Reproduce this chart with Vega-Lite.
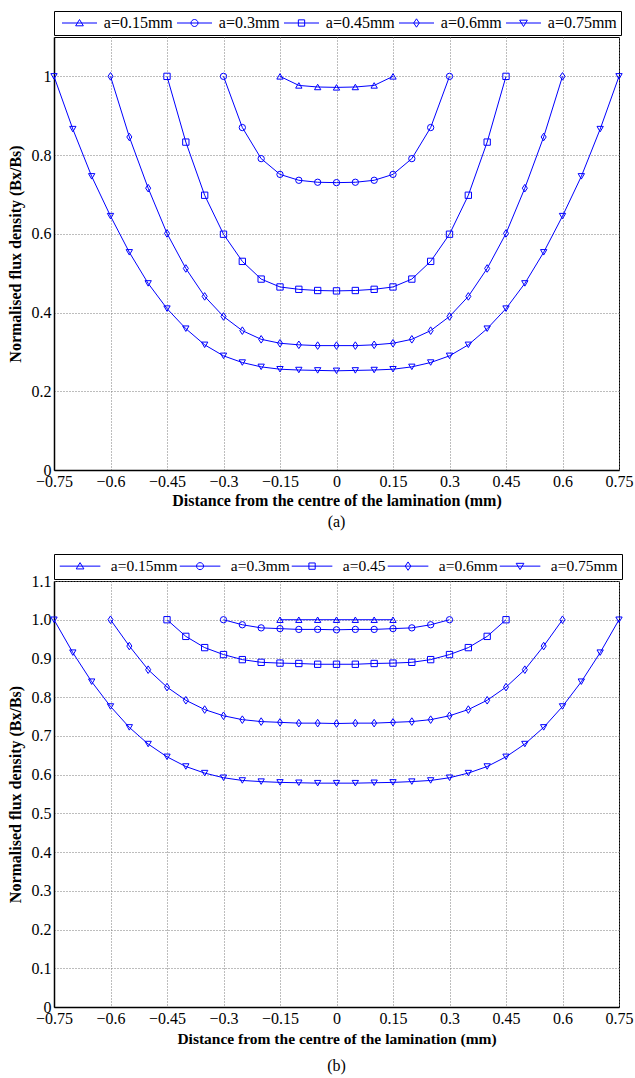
{
  "$schema": "https://vega.github.io/schema/vega-lite/v6.json",
  "background": "white",
  "padding": {"left": 6, "top": 10, "right": 12, "bottom": 4},
  "spacing": 22,
  "config": {
    "font": "Liberation Serif",
    "view": {"stroke": "black", "strokeWidth": 1},
    "axis": {
      "labelFont": "Liberation Serif", "labelFontSize": 16, "labelColor": "black", "labelFlush": false, "labelOverlap": false,
      "titleFont": "Liberation Serif", "titleFontSize": 16, "titleFontWeight": "bold", "titleColor": "black",
      "domainColor": "black", "domainWidth": 1.5, "tickSize": 0, "labelPadding": 3,
      "grid": true, "gridColor": "#7a7a7a", "gridDash": [1, 2], "gridWidth": 1, "gridOpacity": 1
    },
    "legend": {
      "orient": "top", "direction": "horizontal", "offset": 2, "padding": 4,
      "strokeColor": "black", "fillColor": "white", "symbolSize": 49,
      "labelFont": "Liberation Serif", "labelFontSize": 16, "labelColor": "black",
      "symbolStrokeColor": "#0000ff", "symbolStrokeWidth": 1, "symbolFillColor": "transparent"
    },
    "title": {"font": "Liberation Serif", "fontSize": 16, "fontWeight": "normal", "color": "black", "orient": "bottom", "frame": "group", "anchor": "middle"}
  },
  "datasets": {
    "A": [
      {"series": "a=0.15mm", "x": -0.15, "y": 1.0},
      {"series": "a=0.15mm", "x": -0.1, "y": 0.977},
      {"series": "a=0.15mm", "x": -0.05, "y": 0.973},
      {"series": "a=0.15mm", "x": 0, "y": 0.972},
      {"series": "a=0.15mm", "x": 0.05, "y": 0.973},
      {"series": "a=0.15mm", "x": 0.1, "y": 0.977},
      {"series": "a=0.15mm", "x": 0.15, "y": 1.0},
      {"series": "a=0.3mm", "x": -0.3, "y": 1.0},
      {"series": "a=0.3mm", "x": -0.25, "y": 0.87},
      {"series": "a=0.3mm", "x": -0.2, "y": 0.791},
      {"series": "a=0.3mm", "x": -0.15, "y": 0.751},
      {"series": "a=0.3mm", "x": -0.1, "y": 0.736},
      {"series": "a=0.3mm", "x": -0.05, "y": 0.731},
      {"series": "a=0.3mm", "x": 0, "y": 0.73},
      {"series": "a=0.3mm", "x": 0.05, "y": 0.731},
      {"series": "a=0.3mm", "x": 0.1, "y": 0.736},
      {"series": "a=0.3mm", "x": 0.15, "y": 0.751},
      {"series": "a=0.3mm", "x": 0.2, "y": 0.791},
      {"series": "a=0.3mm", "x": 0.25, "y": 0.87},
      {"series": "a=0.3mm", "x": 0.3, "y": 1.0},
      {"series": "a=0.45mm", "x": -0.45, "y": 1.0},
      {"series": "a=0.45mm", "x": -0.4, "y": 0.833},
      {"series": "a=0.45mm", "x": -0.35, "y": 0.698},
      {"series": "a=0.45mm", "x": -0.3, "y": 0.599},
      {"series": "a=0.45mm", "x": -0.25, "y": 0.53},
      {"series": "a=0.45mm", "x": -0.2, "y": 0.485},
      {"series": "a=0.45mm", "x": -0.15, "y": 0.465},
      {"series": "a=0.45mm", "x": -0.1, "y": 0.459},
      {"series": "a=0.45mm", "x": -0.05, "y": 0.456},
      {"series": "a=0.45mm", "x": 0, "y": 0.455},
      {"series": "a=0.45mm", "x": 0.05, "y": 0.456},
      {"series": "a=0.45mm", "x": 0.1, "y": 0.459},
      {"series": "a=0.45mm", "x": 0.15, "y": 0.465},
      {"series": "a=0.45mm", "x": 0.2, "y": 0.485},
      {"series": "a=0.45mm", "x": 0.25, "y": 0.53},
      {"series": "a=0.45mm", "x": 0.3, "y": 0.599},
      {"series": "a=0.45mm", "x": 0.35, "y": 0.698},
      {"series": "a=0.45mm", "x": 0.4, "y": 0.833},
      {"series": "a=0.45mm", "x": 0.45, "y": 1.0},
      {"series": "a=0.6mm", "x": -0.6, "y": 1.0},
      {"series": "a=0.6mm", "x": -0.55, "y": 0.846},
      {"series": "a=0.6mm", "x": -0.5, "y": 0.716},
      {"series": "a=0.6mm", "x": -0.45, "y": 0.601},
      {"series": "a=0.6mm", "x": -0.4, "y": 0.512},
      {"series": "a=0.6mm", "x": -0.35, "y": 0.441},
      {"series": "a=0.6mm", "x": -0.3, "y": 0.39},
      {"series": "a=0.6mm", "x": -0.25, "y": 0.354},
      {"series": "a=0.6mm", "x": -0.2, "y": 0.332},
      {"series": "a=0.6mm", "x": -0.15, "y": 0.322},
      {"series": "a=0.6mm", "x": -0.1, "y": 0.318},
      {"series": "a=0.6mm", "x": -0.05, "y": 0.316},
      {"series": "a=0.6mm", "x": 0, "y": 0.316},
      {"series": "a=0.6mm", "x": 0.05, "y": 0.316},
      {"series": "a=0.6mm", "x": 0.1, "y": 0.318},
      {"series": "a=0.6mm", "x": 0.15, "y": 0.322},
      {"series": "a=0.6mm", "x": 0.2, "y": 0.332},
      {"series": "a=0.6mm", "x": 0.25, "y": 0.354},
      {"series": "a=0.6mm", "x": 0.3, "y": 0.39},
      {"series": "a=0.6mm", "x": 0.35, "y": 0.441},
      {"series": "a=0.6mm", "x": 0.4, "y": 0.512},
      {"series": "a=0.6mm", "x": 0.45, "y": 0.601},
      {"series": "a=0.6mm", "x": 0.5, "y": 0.716},
      {"series": "a=0.6mm", "x": 0.55, "y": 0.846},
      {"series": "a=0.6mm", "x": 0.6, "y": 1.0},
      {"series": "a=0.75mm", "x": -0.75, "y": 1.0},
      {"series": "a=0.75mm", "x": -0.7, "y": 0.866},
      {"series": "a=0.75mm", "x": -0.65, "y": 0.746},
      {"series": "a=0.75mm", "x": -0.6, "y": 0.645},
      {"series": "a=0.75mm", "x": -0.55, "y": 0.553},
      {"series": "a=0.75mm", "x": -0.5, "y": 0.474},
      {"series": "a=0.75mm", "x": -0.45, "y": 0.41},
      {"series": "a=0.75mm", "x": -0.4, "y": 0.359},
      {"series": "a=0.75mm", "x": -0.35, "y": 0.318},
      {"series": "a=0.75mm", "x": -0.3, "y": 0.29},
      {"series": "a=0.75mm", "x": -0.25, "y": 0.273},
      {"series": "a=0.75mm", "x": -0.2, "y": 0.262},
      {"series": "a=0.75mm", "x": -0.15, "y": 0.256},
      {"series": "a=0.75mm", "x": -0.1, "y": 0.254},
      {"series": "a=0.75mm", "x": -0.05, "y": 0.253},
      {"series": "a=0.75mm", "x": 0, "y": 0.252},
      {"series": "a=0.75mm", "x": 0.05, "y": 0.253},
      {"series": "a=0.75mm", "x": 0.1, "y": 0.254},
      {"series": "a=0.75mm", "x": 0.15, "y": 0.256},
      {"series": "a=0.75mm", "x": 0.2, "y": 0.262},
      {"series": "a=0.75mm", "x": 0.25, "y": 0.273},
      {"series": "a=0.75mm", "x": 0.3, "y": 0.29},
      {"series": "a=0.75mm", "x": 0.35, "y": 0.318},
      {"series": "a=0.75mm", "x": 0.4, "y": 0.359},
      {"series": "a=0.75mm", "x": 0.45, "y": 0.41},
      {"series": "a=0.75mm", "x": 0.5, "y": 0.474},
      {"series": "a=0.75mm", "x": 0.55, "y": 0.553},
      {"series": "a=0.75mm", "x": 0.6, "y": 0.645},
      {"series": "a=0.75mm", "x": 0.65, "y": 0.746},
      {"series": "a=0.75mm", "x": 0.7, "y": 0.866},
      {"series": "a=0.75mm", "x": 0.75, "y": 1.0}
    ],
    "B": [
      {"series": "a=0.15mm", "x": -0.15, "y": 1.0},
      {"series": "a=0.15mm", "x": -0.1, "y": 1.0},
      {"series": "a=0.15mm", "x": -0.05, "y": 1.0},
      {"series": "a=0.15mm", "x": 0, "y": 1.0},
      {"series": "a=0.15mm", "x": 0.05, "y": 1.0},
      {"series": "a=0.15mm", "x": 0.1, "y": 1.0},
      {"series": "a=0.15mm", "x": 0.15, "y": 1.0},
      {"series": "a=0.3mm", "x": -0.3, "y": 1.0},
      {"series": "a=0.3mm", "x": -0.25, "y": 0.987},
      {"series": "a=0.3mm", "x": -0.2, "y": 0.979},
      {"series": "a=0.3mm", "x": -0.15, "y": 0.977},
      {"series": "a=0.3mm", "x": -0.1, "y": 0.975},
      {"series": "a=0.3mm", "x": -0.05, "y": 0.975},
      {"series": "a=0.3mm", "x": 0, "y": 0.974},
      {"series": "a=0.3mm", "x": 0.05, "y": 0.975},
      {"series": "a=0.3mm", "x": 0.1, "y": 0.975},
      {"series": "a=0.3mm", "x": 0.15, "y": 0.977},
      {"series": "a=0.3mm", "x": 0.2, "y": 0.979},
      {"series": "a=0.3mm", "x": 0.25, "y": 0.987},
      {"series": "a=0.3mm", "x": 0.3, "y": 1.0},
      {"series": "a=0.45", "x": -0.45, "y": 1.0},
      {"series": "a=0.45", "x": -0.4, "y": 0.957},
      {"series": "a=0.45", "x": -0.35, "y": 0.928},
      {"series": "a=0.45", "x": -0.3, "y": 0.91},
      {"series": "a=0.45", "x": -0.25, "y": 0.897},
      {"series": "a=0.45", "x": -0.2, "y": 0.89},
      {"series": "a=0.45", "x": -0.15, "y": 0.888},
      {"series": "a=0.45", "x": -0.1, "y": 0.887},
      {"series": "a=0.45", "x": -0.05, "y": 0.885},
      {"series": "a=0.45", "x": 0, "y": 0.885},
      {"series": "a=0.45", "x": 0.05, "y": 0.885},
      {"series": "a=0.45", "x": 0.1, "y": 0.887},
      {"series": "a=0.45", "x": 0.15, "y": 0.888},
      {"series": "a=0.45", "x": 0.2, "y": 0.89},
      {"series": "a=0.45", "x": 0.25, "y": 0.897},
      {"series": "a=0.45", "x": 0.3, "y": 0.91},
      {"series": "a=0.45", "x": 0.35, "y": 0.928},
      {"series": "a=0.45", "x": 0.4, "y": 0.957},
      {"series": "a=0.45", "x": 0.45, "y": 1.0},
      {"series": "a=0.6mm", "x": -0.6, "y": 1.0},
      {"series": "a=0.6mm", "x": -0.55, "y": 0.932},
      {"series": "a=0.6mm", "x": -0.5, "y": 0.871},
      {"series": "a=0.6mm", "x": -0.45, "y": 0.826},
      {"series": "a=0.6mm", "x": -0.4, "y": 0.792},
      {"series": "a=0.6mm", "x": -0.35, "y": 0.768},
      {"series": "a=0.6mm", "x": -0.3, "y": 0.752},
      {"series": "a=0.6mm", "x": -0.25, "y": 0.742},
      {"series": "a=0.6mm", "x": -0.2, "y": 0.737},
      {"series": "a=0.6mm", "x": -0.15, "y": 0.735},
      {"series": "a=0.6mm", "x": -0.1, "y": 0.733},
      {"series": "a=0.6mm", "x": -0.05, "y": 0.733},
      {"series": "a=0.6mm", "x": 0, "y": 0.732},
      {"series": "a=0.6mm", "x": 0.05, "y": 0.733},
      {"series": "a=0.6mm", "x": 0.1, "y": 0.733},
      {"series": "a=0.6mm", "x": 0.15, "y": 0.735},
      {"series": "a=0.6mm", "x": 0.2, "y": 0.737},
      {"series": "a=0.6mm", "x": 0.25, "y": 0.742},
      {"series": "a=0.6mm", "x": 0.3, "y": 0.752},
      {"series": "a=0.6mm", "x": 0.35, "y": 0.768},
      {"series": "a=0.6mm", "x": 0.4, "y": 0.792},
      {"series": "a=0.6mm", "x": 0.45, "y": 0.826},
      {"series": "a=0.6mm", "x": 0.5, "y": 0.871},
      {"series": "a=0.6mm", "x": 0.55, "y": 0.932},
      {"series": "a=0.6mm", "x": 0.6, "y": 1.0},
      {"series": "a=0.75mm", "x": -0.75, "y": 1.0},
      {"series": "a=0.75mm", "x": -0.7, "y": 0.915},
      {"series": "a=0.75mm", "x": -0.65, "y": 0.84},
      {"series": "a=0.75mm", "x": -0.6, "y": 0.776},
      {"series": "a=0.75mm", "x": -0.55, "y": 0.722},
      {"series": "a=0.75mm", "x": -0.5, "y": 0.679},
      {"series": "a=0.75mm", "x": -0.45, "y": 0.646},
      {"series": "a=0.75mm", "x": -0.4, "y": 0.621},
      {"series": "a=0.75mm", "x": -0.35, "y": 0.604},
      {"series": "a=0.75mm", "x": -0.3, "y": 0.592},
      {"series": "a=0.75mm", "x": -0.25, "y": 0.585},
      {"series": "a=0.75mm", "x": -0.2, "y": 0.582},
      {"series": "a=0.75mm", "x": -0.15, "y": 0.58},
      {"series": "a=0.75mm", "x": -0.1, "y": 0.579},
      {"series": "a=0.75mm", "x": -0.05, "y": 0.578},
      {"series": "a=0.75mm", "x": 0, "y": 0.578},
      {"series": "a=0.75mm", "x": 0.05, "y": 0.578},
      {"series": "a=0.75mm", "x": 0.1, "y": 0.579},
      {"series": "a=0.75mm", "x": 0.15, "y": 0.58},
      {"series": "a=0.75mm", "x": 0.2, "y": 0.582},
      {"series": "a=0.75mm", "x": 0.25, "y": 0.585},
      {"series": "a=0.75mm", "x": 0.3, "y": 0.592},
      {"series": "a=0.75mm", "x": 0.35, "y": 0.604},
      {"series": "a=0.75mm", "x": 0.4, "y": 0.621},
      {"series": "a=0.75mm", "x": 0.45, "y": 0.646},
      {"series": "a=0.75mm", "x": 0.5, "y": 0.679},
      {"series": "a=0.75mm", "x": 0.55, "y": 0.722},
      {"series": "a=0.75mm", "x": 0.6, "y": 0.776},
      {"series": "a=0.75mm", "x": 0.65, "y": 0.84},
      {"series": "a=0.75mm", "x": 0.7, "y": 0.915},
      {"series": "a=0.75mm", "x": 0.75, "y": 1.0}
    ]
  },
  "resolve": {"scale": {"shape": "independent", "y": "independent", "x": "independent"}, "legend": {"shape": "independent"}},
  "vconcat": [
    {
      "width": 565,
      "height": 433,
      "title": {"text": "(a)", "offset": 6},
      "data": {"name": "A"},
      "encoding": {
        "x": {"field": "x", "type": "quantitative", "scale": {"domain": [-0.75, 0.75], "nice": false, "zero": false},
              "axis": {"values": [-0.75, -0.6, -0.45, -0.3, -0.15, 0, 0.15, 0.3, 0.45, 0.6, 0.75], "format": ".2~f", "title": "Distance from the centre of the lamination (mm)", "titlePadding": 3}},
        "y": {"field": "y", "type": "quantitative", "scale": {"domain": [0, 1.1], "nice": false},
              "axis": {"values": [0, 0.2, 0.4, 0.6, 0.8, 1], "format": ".1~f", "title": "Normalised flux density (Bx/Bs)", "titlePadding": 8}}
      },
      "layer": [
        {
          "mark": {"type": "line", "color": "#0000ff", "strokeWidth": 1},
          "encoding": {"detail": {"field": "series"}}
        },
        {
          "mark": {"type": "point", "filled": false, "color": "#0000ff", "size": 40, "strokeWidth": 1, "opacity": 1},
          "encoding": {
            "shape": {"field": "series", "type": "nominal", "legend": null,
              "scale": {"domain": ["a=0.15mm", "a=0.3mm", "a=0.45mm", "a=0.6mm", "a=0.75mm"],
                        "range": ["triangle-up", "circle", "square", "M0,-1.2L0.8,0L0,1.2L-0.8,0Z", "triangle-down"]}}
          }
        },
        {
          "transform": [{"filter": "datum.x > 10"}],
          "mark": {"type": "point", "filled": false, "color": "#0000ff", "strokeWidth": 1, "opacity": 1},
          "encoding": {
            "shape": {"field": "series", "type": "nominal",
              "scale": {"domain": ["a=0.15mm", "a=0.3mm", "a=0.45mm", "a=0.6mm", "a=0.75mm"],
                        "range": ["M-5,0H5M0,-1L1.1,0.8H-1.1Z", "M-5,0H5M1,0A1,1,0,1,1,-1,0A1,1,0,1,1,1,0Z", "M-5,0H5M-0.9,-0.9H0.9V0.9H-0.9Z", "M-5,0H5M0,-1.2L0.8,0L0,1.2L-0.8,0Z", "M-5,0H5M0,1L1.1,-0.8H-1.1Z"]},
              "legend": {"title": null, "symbolOffset": 13.5, "labelOffset": 16.3, "columnPadding": -11, "gridAlign": "each", "columns": 5}
            }
          }
        }
      ],
      "resolve": {"scale": {"shape": "independent"}}
    },
    {
      "width": 565,
      "height": 426,
      "title": {"text": "(b)", "offset": 11},
      "data": {"name": "B"},
      "encoding": {
        "x": {"field": "x", "type": "quantitative", "scale": {"domain": [-0.75, 0.75], "nice": false, "zero": false},
              "axis": {"values": [-0.75, -0.6, -0.45, -0.3, -0.15, 0, 0.15, 0.3, 0.45, 0.6, 0.75], "format": ".2~f", "title": "Distance from the centre of the lamination (mm)", "titlePadding": 5, "titleFontSize": 15.5}},
        "y": {"field": "y", "type": "quantitative", "scale": {"domain": [0, 1.1], "nice": false},
              "axis": {"values": [0, 0.1, 0.2, 0.3, 0.4, 0.5, 0.6, 0.7, 0.8, 0.9, 1.0, 1.1], "labelExpr": "datum.value == 0 ? '0' : format(datum.value, '.1f')", "title": "Normalised flux density (Bx/Bs)", "titlePadding": 8}}
      },
      "layer": [
        {
          "mark": {"type": "line", "color": "#0000ff", "strokeWidth": 1},
          "encoding": {"detail": {"field": "series"}}
        },
        {
          "mark": {"type": "point", "filled": false, "color": "#0000ff", "size": 40, "strokeWidth": 1, "opacity": 1},
          "encoding": {
            "shape": {"field": "series", "type": "nominal", "legend": null,
              "scale": {"domain": ["a=0.15mm", "a=0.3mm", "a=0.45", "a=0.6mm", "a=0.75mm"],
                        "range": ["triangle-up", "circle", "square", "M0,-1.2L0.8,0L0,1.2L-0.8,0Z", "triangle-down"]}}
          }
        },
        {
          "transform": [{"filter": "datum.x > 10"}],
          "mark": {"type": "point", "filled": false, "color": "#0000ff", "strokeWidth": 1, "opacity": 1},
          "encoding": {
            "shape": {"field": "series", "type": "nominal",
              "scale": {"domain": ["a=0.15mm", "a=0.3mm", "a=0.45", "a=0.6mm", "a=0.75mm"],
                        "range": ["M-5.8,0H5.8M0,-1L1.1,0.8H-1.1Z", "M-5.8,0H5.8M1,0A1,1,0,1,1,-1,0A1,1,0,1,1,1,0Z", "M-5.8,0H5.8M-0.9,-0.9H0.9V0.9H-0.9Z", "M-5.8,0H5.8M0,-1.2L0.8,0L0,1.2L-0.8,0Z", "M-5.8,0H5.8M0,1L1.1,-0.8H-1.1Z"]},
              "legend": {"title": null, "labelFontSize": 15.5, "symbolOffset": 14.3, "labelOffset": 23, "columnPadding": -1, "gridAlign": "each", "columns": 5}
            }
          }
        }
      ],
      "resolve": {"scale": {"shape": "independent"}}
    }
  ]
}
